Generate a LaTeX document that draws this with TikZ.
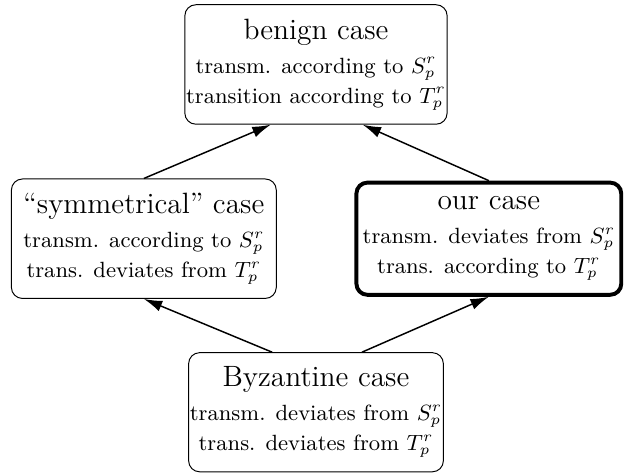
\documentclass[tikz,border=0pt]{standalone}
\usepackage{amsmath}
\usepackage{tikz}
\usetikzlibrary{arrows.meta, positioning, calc}
\tikzset{
  casebox/.style={rectangle, draw=black, rounded corners=4.5pt, align=center,
    inner xsep=0.5pt, inner ysep=5.8pt, font=\small},
  midbox/.style={casebox, minimum width=3.8cm},
  ourbox/.style={midbox, ultra thick},
  arrow/.style={-{Latex[length=7.5pt, width=4.5pt]}, semithick, color=black}
}
\newcommand{\casetitle}[1]{{\large #1}\\[2.8pt]}

\begin{document}
\begin{tikzpicture}
  \useasboundingbox (-4.534,0.925) rectangle (4.534,-5.89);
  \node[casebox] (benign) at (0,0)
    {\casetitle{benign case} transm. according to $S_p^r$\\[1.3pt] transition according to $T_p^r$};
  \node[midbox] (symm) at (-2.47,-2.5)
    {\casetitle{``symmetrical'' case} transm. according to $S_p^r$\\[1.3pt] trans. deviates from $T_p^r$};
  \node[ourbox] (our) at (2.48,-2.5)
    {\casetitle{our case} transm. deviates from $S_p^r$\\[1.3pt] trans. according to $T_p^r$};
  \node[casebox] (byz) at (0,-4.99)
    {\casetitle{Byzantine case} transm. deviates from $S_p^r$\\[1.3pt] trans. deviates from $T_p^r$};

  \draw[arrow] (symm.north) -- ([xshift=-0.65cm]benign.south);
  \draw[arrow] (our.north) -- ([xshift=0.67cm]benign.south);

  \draw[arrow] ([xshift=-0.63cm]byz.north) -- (symm.south);
  \draw[arrow] ([xshift=0.66cm]byz.north) -- (our.south);
\end{tikzpicture}
\end{document}
